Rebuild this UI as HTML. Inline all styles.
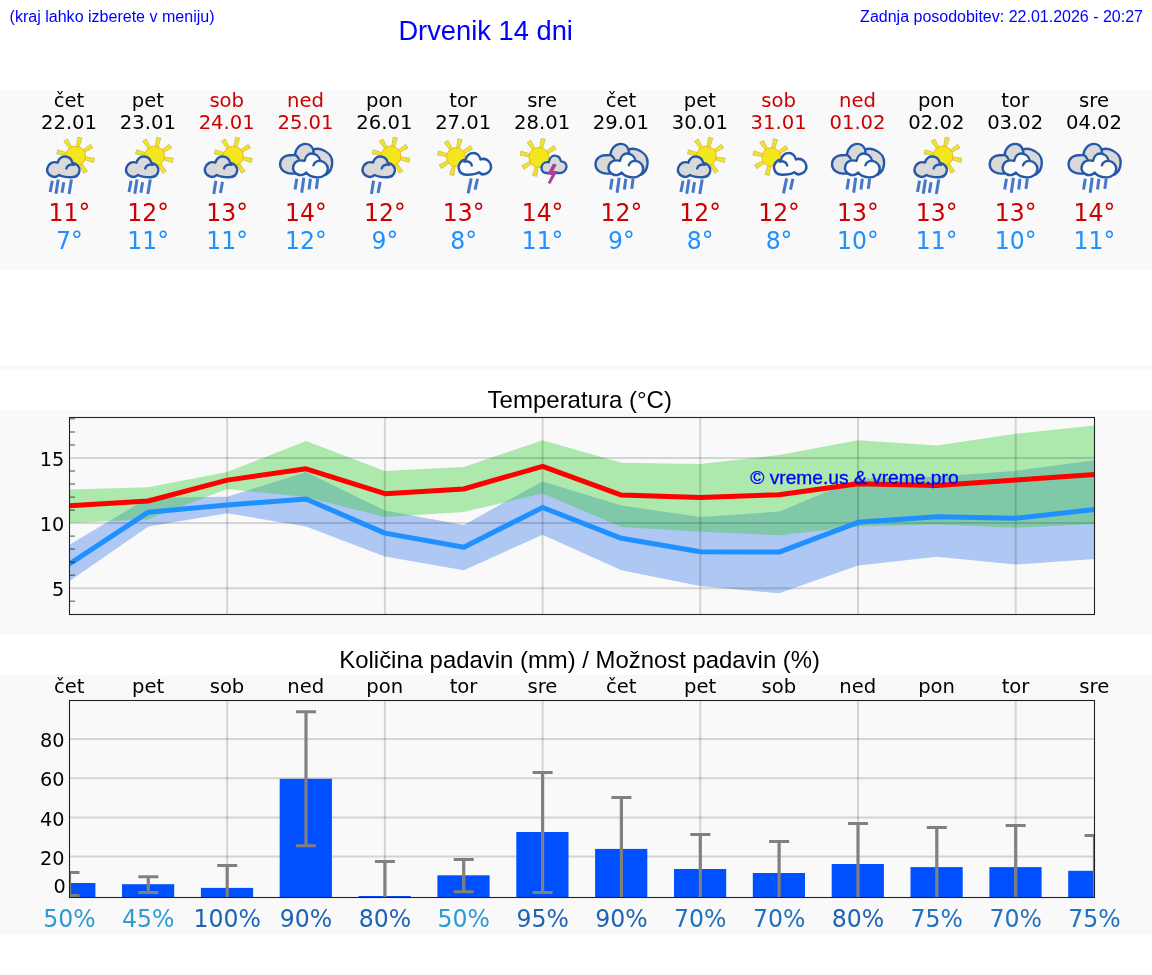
<!DOCTYPE html>
<html lang="sl"><head><meta charset="utf-8"><title>Drvenik 14 dni</title>
<style>
html,body{margin:0;padding:0;background:#fff;}
body{width:1152px;height:975px;position:relative;overflow:hidden;font-family:"Liberation Sans",sans-serif;}
.band{position:absolute;left:0;width:1152px;background:#f9f9f9;}
.t{position:absolute;white-space:nowrap;color:#0000ff;}
svg{position:absolute;left:0;top:0;}
svg text{font-family:"DejaVu Sans",sans-serif;}
</style></head><body>
<div class="band" style="top:90px;height:180px"></div>
<div class="band" style="top:365px;height:5px"></div>
<div class="band" style="top:410px;height:225px"></div>
<div class="band" style="top:675px;height:260px"></div>
<div class="t" style="left:9.6px;top:7px;font-size:16.05px;line-height:18px">(kraj lahko izberete v meniju)</div>
<div class="t" style="left:398.4px;top:14.7px;font-size:27.3px;line-height:31px">Drvenik 14 dni</div>
<div class="t" style="right:9px;top:8.2px;font-size:16px;line-height:18px">Zadnja posodobitev: 22.01.2026 - 20:27</div>
<div class="t" style="left:487.6px;top:386px;font-size:24px;line-height:28px;color:#000">Temperatura (°C)</div>
<div class="t" style="left:339.3px;top:646px;font-size:23.9px;line-height:28px;color:#000">Količina padavin (mm) / Možnost padavin (%)</div>

<svg width="1152" height="975" viewBox="0 0 1152 975">
<text x="69.0" y="106.5" font-size="19.6" text-anchor="middle" fill="#000">čet</text>
<text x="69.0" y="128.8" font-size="19.6" text-anchor="middle" fill="#000">22.01</text>
<text transform="translate(69.4,221.2) scale(0.96,1)" font-size="24.5" text-anchor="middle" fill="#cc0000">11°</text>
<text transform="translate(69.4,248.8) scale(0.96,1)" font-size="24.5" text-anchor="middle" fill="#1e90ff">7°</text>
<g transform="translate(39.00,132)"><polygon points="45.36,27.59 54.56,30.50 55.54,26.29 45.98,24.87" fill="#f2e61c" stroke="#bdb566" stroke-width="0.7"/><polygon points="40.36,32.75 44.81,41.32 48.48,39.03 42.73,31.27" fill="#f2e61c" stroke="#bdb566" stroke-width="0.7"/><polygon points="33.18,32.87 30.27,42.08 34.48,43.05 35.90,33.49" fill="#f2e61c" stroke="#bdb566" stroke-width="0.7"/><polygon points="28.02,27.87 19.45,32.32 21.74,35.99 29.50,30.24" fill="#f2e61c" stroke="#bdb566" stroke-width="0.7"/><polygon points="27.90,20.69 18.69,17.78 17.72,21.99 27.27,23.41" fill="#f2e61c" stroke="#bdb566" stroke-width="0.7"/><polygon points="32.89,15.53 28.44,6.96 24.77,9.25 30.53,17.01" fill="#f2e61c" stroke="#bdb566" stroke-width="0.7"/><polygon points="40.07,15.41 42.99,6.20 38.77,5.23 37.36,14.78" fill="#f2e61c" stroke="#bdb566" stroke-width="0.7"/><polygon points="45.24,20.41 53.81,15.95 51.52,12.29 43.76,18.04" fill="#f2e61c" stroke="#bdb566" stroke-width="0.7"/><circle cx="36.63" cy="24.14" r="9.98" fill="#f2e61c" stroke="#f6b21e" stroke-width="1"/><g transform="translate(0.00,0.00)"><path d="M 20.23 42.91 C 18.28 44.79 15.00 45.35 12.56 44.09 C 9.42 42.56 7.53 39.42 8.37 35.93 C 9.35 31.95 13.95 28.95 18.70 30.70 C 19.19 27.21 22.19 24.56 25.47 24.56 C 29.30 24.56 32.51 27.07 33.49 30.84 C 38.02 31.40 41.16 35.23 40.47 39.07 C 39.77 43.40 36.28 45.35 32.09 45.21 C 27.35 45.21 23.02 44.65 20.23 42.91 Z" fill="#d9d9d9" stroke="#2558a8" stroke-width="2.4" stroke-linejoin="round"/><path d="M 34.88 32.79 C 31.74 31.74 27.91 33.49 27.35 36.42" fill="none" stroke="#2558a8" stroke-width="2.4" stroke-linecap="round"/></g><line x1="13.26" y1="48.84" x2="11.16" y2="60.00" stroke="#4578c8" stroke-width="3"/><line x1="19.19" y1="47.44" x2="16.95" y2="61.74" stroke="#4578c8" stroke-width="3"/><line x1="24.77" y1="50.23" x2="23.02" y2="60.70" stroke="#4578c8" stroke-width="3"/><line x1="32.44" y1="47.44" x2="30.00" y2="62.09" stroke="#4578c8" stroke-width="3"/></g>
<text x="147.8" y="106.5" font-size="19.6" text-anchor="middle" fill="#000">pet</text>
<text x="147.8" y="128.8" font-size="19.6" text-anchor="middle" fill="#000">23.01</text>
<text transform="translate(148.2,221.2) scale(0.96,1)" font-size="24.5" text-anchor="middle" fill="#cc0000">12°</text>
<text transform="translate(148.2,248.8) scale(0.96,1)" font-size="24.5" text-anchor="middle" fill="#1e90ff">11°</text>
<g transform="translate(117.85,132)"><polygon points="45.36,27.59 54.56,30.50 55.54,26.29 45.98,24.87" fill="#f2e61c" stroke="#bdb566" stroke-width="0.7"/><polygon points="40.36,32.75 44.81,41.32 48.48,39.03 42.73,31.27" fill="#f2e61c" stroke="#bdb566" stroke-width="0.7"/><polygon points="33.18,32.87 30.27,42.08 34.48,43.05 35.90,33.49" fill="#f2e61c" stroke="#bdb566" stroke-width="0.7"/><polygon points="28.02,27.87 19.45,32.32 21.74,35.99 29.50,30.24" fill="#f2e61c" stroke="#bdb566" stroke-width="0.7"/><polygon points="27.90,20.69 18.69,17.78 17.72,21.99 27.27,23.41" fill="#f2e61c" stroke="#bdb566" stroke-width="0.7"/><polygon points="32.89,15.53 28.44,6.96 24.77,9.25 30.53,17.01" fill="#f2e61c" stroke="#bdb566" stroke-width="0.7"/><polygon points="40.07,15.41 42.99,6.20 38.77,5.23 37.36,14.78" fill="#f2e61c" stroke="#bdb566" stroke-width="0.7"/><polygon points="45.24,20.41 53.81,15.95 51.52,12.29 43.76,18.04" fill="#f2e61c" stroke="#bdb566" stroke-width="0.7"/><circle cx="36.63" cy="24.14" r="9.98" fill="#f2e61c" stroke="#f6b21e" stroke-width="1"/><g transform="translate(0.00,0.00)"><path d="M 20.23 42.91 C 18.28 44.79 15.00 45.35 12.56 44.09 C 9.42 42.56 7.53 39.42 8.37 35.93 C 9.35 31.95 13.95 28.95 18.70 30.70 C 19.19 27.21 22.19 24.56 25.47 24.56 C 29.30 24.56 32.51 27.07 33.49 30.84 C 38.02 31.40 41.16 35.23 40.47 39.07 C 39.77 43.40 36.28 45.35 32.09 45.21 C 27.35 45.21 23.02 44.65 20.23 42.91 Z" fill="#d9d9d9" stroke="#2558a8" stroke-width="2.4" stroke-linejoin="round"/><path d="M 34.88 32.79 C 31.74 31.74 27.91 33.49 27.35 36.42" fill="none" stroke="#2558a8" stroke-width="2.4" stroke-linecap="round"/></g><line x1="13.26" y1="48.84" x2="11.16" y2="60.00" stroke="#4578c8" stroke-width="3"/><line x1="19.19" y1="47.44" x2="16.95" y2="61.74" stroke="#4578c8" stroke-width="3"/><line x1="24.77" y1="50.23" x2="23.02" y2="60.70" stroke="#4578c8" stroke-width="3"/><line x1="32.44" y1="47.44" x2="30.00" y2="62.09" stroke="#4578c8" stroke-width="3"/></g>
<text x="226.7" y="106.5" font-size="19.6" text-anchor="middle" fill="#cc0000">sob</text>
<text x="226.7" y="128.8" font-size="19.6" text-anchor="middle" fill="#cc0000">24.01</text>
<text transform="translate(227.1,221.2) scale(0.96,1)" font-size="24.5" text-anchor="middle" fill="#cc0000">13°</text>
<text transform="translate(227.1,248.8) scale(0.96,1)" font-size="24.5" text-anchor="middle" fill="#1e90ff">11°</text>
<g transform="translate(196.69,132)"><polygon points="45.36,27.59 54.56,30.50 55.54,26.29 45.98,24.87" fill="#f2e61c" stroke="#bdb566" stroke-width="0.7"/><polygon points="40.36,32.75 44.81,41.32 48.48,39.03 42.73,31.27" fill="#f2e61c" stroke="#bdb566" stroke-width="0.7"/><polygon points="33.18,32.87 30.27,42.08 34.48,43.05 35.90,33.49" fill="#f2e61c" stroke="#bdb566" stroke-width="0.7"/><polygon points="28.02,27.87 19.45,32.32 21.74,35.99 29.50,30.24" fill="#f2e61c" stroke="#bdb566" stroke-width="0.7"/><polygon points="27.90,20.69 18.69,17.78 17.72,21.99 27.27,23.41" fill="#f2e61c" stroke="#bdb566" stroke-width="0.7"/><polygon points="32.89,15.53 28.44,6.96 24.77,9.25 30.53,17.01" fill="#f2e61c" stroke="#bdb566" stroke-width="0.7"/><polygon points="40.07,15.41 42.99,6.20 38.77,5.23 37.36,14.78" fill="#f2e61c" stroke="#bdb566" stroke-width="0.7"/><polygon points="45.24,20.41 53.81,15.95 51.52,12.29 43.76,18.04" fill="#f2e61c" stroke="#bdb566" stroke-width="0.7"/><circle cx="36.63" cy="24.14" r="9.98" fill="#f2e61c" stroke="#f6b21e" stroke-width="1"/><g transform="translate(0.00,0.00)"><path d="M 20.23 42.91 C 18.28 44.79 15.00 45.35 12.56 44.09 C 9.42 42.56 7.53 39.42 8.37 35.93 C 9.35 31.95 13.95 28.95 18.70 30.70 C 19.19 27.21 22.19 24.56 25.47 24.56 C 29.30 24.56 32.51 27.07 33.49 30.84 C 38.02 31.40 41.16 35.23 40.47 39.07 C 39.77 43.40 36.28 45.35 32.09 45.21 C 27.35 45.21 23.02 44.65 20.23 42.91 Z" fill="#d9d9d9" stroke="#2558a8" stroke-width="2.4" stroke-linejoin="round"/><path d="M 34.88 32.79 C 31.74 31.74 27.91 33.49 27.35 36.42" fill="none" stroke="#2558a8" stroke-width="2.4" stroke-linecap="round"/></g><line x1="19.19" y1="48.84" x2="17.09" y2="62.09" stroke="#4578c8" stroke-width="3"/><line x1="25.81" y1="49.88" x2="23.72" y2="61.05" stroke="#4578c8" stroke-width="3"/></g>
<text x="305.5" y="106.5" font-size="19.6" text-anchor="middle" fill="#cc0000">ned</text>
<text x="305.5" y="128.8" font-size="19.6" text-anchor="middle" fill="#cc0000">25.01</text>
<text transform="translate(305.9,221.2) scale(0.96,1)" font-size="24.5" text-anchor="middle" fill="#cc0000">14°</text>
<text transform="translate(305.9,248.8) scale(0.96,1)" font-size="24.5" text-anchor="middle" fill="#1e90ff">12°</text>
<g transform="translate(275.54,132)"><path d="M 18.65 41.34 C 11.88 42.64 4.58 38.99 4.58 32.22 C 4.58 26.49 9.27 23.11 14.22 23.26 C 16.56 23.26 18.13 23.37 19.43 22.95 C 19.69 17.12 24.38 11.91 29.85 11.91 C 33.23 11.91 36.36 13.99 37.66 17.64 C 40.00 16.60 43.13 16.60 45.73 17.38 C 52.50 19.46 56.77 24.41 56.67 30.40 C 56.56 35.87 54.06 40.55 50.42 42.64 Z" fill="#d9d9d9" stroke="#2558a8" stroke-width="2.4" stroke-linejoin="round"/><path d="M 19.43 22.95 C 20.99 23.63 22.29 24.93 23.23 26.75 M 37.66 17.64 C 37.92 18.68 38.02 19.72 37.92 20.87" fill="none" stroke="#2558a8" stroke-width="2.4" stroke-linecap="round"/><path d="M 30.63 40.55 C 28.54 43.16 24.38 43.94 21.51 42.12 C 18.65 40.55 17.09 37.43 17.71 34.56 C 18.39 30.14 22.29 27.27 29.06 28.84 C 29.85 24.41 32.71 21.54 36.10 21.54 C 40.00 21.54 43.65 24.41 44.69 28.84 C 48.86 29.36 52.24 32.74 52.24 36.65 C 52.24 41.60 47.81 45.24 42.61 45.35 C 37.92 45.50 33.23 43.68 30.63 40.55 Z" fill="#fbfbfb" stroke="#2558a8" stroke-width="2.4" stroke-linejoin="round"/><path d="M 44.69 28.94 C 42.09 28.57 38.70 30.14 37.92 33.26" fill="none" stroke="#2558a8" stroke-width="2.4" stroke-linecap="round"/><line x1="21.28" y1="46.74" x2="19.53" y2="57.56" stroke="#4578c8" stroke-width="3"/><line x1="28.26" y1="45.70" x2="26.16" y2="60.70" stroke="#4578c8" stroke-width="3"/><line x1="34.88" y1="46.74" x2="33.49" y2="57.56" stroke="#4578c8" stroke-width="3"/><line x1="42.21" y1="46.40" x2="40.81" y2="56.86" stroke="#4578c8" stroke-width="3"/></g>
<text x="384.4" y="106.5" font-size="19.6" text-anchor="middle" fill="#000">pon</text>
<text x="384.4" y="128.8" font-size="19.6" text-anchor="middle" fill="#000">26.01</text>
<text transform="translate(384.8,221.2) scale(0.96,1)" font-size="24.5" text-anchor="middle" fill="#cc0000">12°</text>
<text transform="translate(384.8,248.8) scale(0.96,1)" font-size="24.5" text-anchor="middle" fill="#1e90ff">9°</text>
<g transform="translate(354.38,132)"><polygon points="45.36,27.59 54.56,30.50 55.54,26.29 45.98,24.87" fill="#f2e61c" stroke="#bdb566" stroke-width="0.7"/><polygon points="40.36,32.75 44.81,41.32 48.48,39.03 42.73,31.27" fill="#f2e61c" stroke="#bdb566" stroke-width="0.7"/><polygon points="33.18,32.87 30.27,42.08 34.48,43.05 35.90,33.49" fill="#f2e61c" stroke="#bdb566" stroke-width="0.7"/><polygon points="28.02,27.87 19.45,32.32 21.74,35.99 29.50,30.24" fill="#f2e61c" stroke="#bdb566" stroke-width="0.7"/><polygon points="27.90,20.69 18.69,17.78 17.72,21.99 27.27,23.41" fill="#f2e61c" stroke="#bdb566" stroke-width="0.7"/><polygon points="32.89,15.53 28.44,6.96 24.77,9.25 30.53,17.01" fill="#f2e61c" stroke="#bdb566" stroke-width="0.7"/><polygon points="40.07,15.41 42.99,6.20 38.77,5.23 37.36,14.78" fill="#f2e61c" stroke="#bdb566" stroke-width="0.7"/><polygon points="45.24,20.41 53.81,15.95 51.52,12.29 43.76,18.04" fill="#f2e61c" stroke="#bdb566" stroke-width="0.7"/><circle cx="36.63" cy="24.14" r="9.98" fill="#f2e61c" stroke="#f6b21e" stroke-width="1"/><g transform="translate(0.00,0.00)"><path d="M 20.23 42.91 C 18.28 44.79 15.00 45.35 12.56 44.09 C 9.42 42.56 7.53 39.42 8.37 35.93 C 9.35 31.95 13.95 28.95 18.70 30.70 C 19.19 27.21 22.19 24.56 25.47 24.56 C 29.30 24.56 32.51 27.07 33.49 30.84 C 38.02 31.40 41.16 35.23 40.47 39.07 C 39.77 43.40 36.28 45.35 32.09 45.21 C 27.35 45.21 23.02 44.65 20.23 42.91 Z" fill="#d9d9d9" stroke="#2558a8" stroke-width="2.4" stroke-linejoin="round"/><path d="M 34.88 32.79 C 31.74 31.74 27.91 33.49 27.35 36.42" fill="none" stroke="#2558a8" stroke-width="2.4" stroke-linecap="round"/></g><line x1="19.19" y1="48.84" x2="17.09" y2="62.09" stroke="#4578c8" stroke-width="3"/><line x1="25.81" y1="49.88" x2="23.72" y2="61.05" stroke="#4578c8" stroke-width="3"/></g>
<text x="463.2" y="106.5" font-size="19.6" text-anchor="middle" fill="#000">tor</text>
<text x="463.2" y="128.8" font-size="19.6" text-anchor="middle" fill="#000">27.01</text>
<text transform="translate(463.6,221.2) scale(0.96,1)" font-size="24.5" text-anchor="middle" fill="#cc0000">13°</text>
<text transform="translate(463.6,248.8) scale(0.96,1)" font-size="24.5" text-anchor="middle" fill="#1e90ff">8°</text>
<g transform="translate(433.23,132)"><polygon points="30.86,28.44 40.07,31.35 41.04,27.14 31.49,25.72" fill="#f2e61c" stroke="#bdb566" stroke-width="0.7"/><polygon points="26.11,33.25 30.56,41.82 34.23,39.53 28.48,31.77" fill="#f2e61c" stroke="#bdb566" stroke-width="0.7"/><polygon points="19.35,33.30 16.44,42.51 20.65,43.48 22.07,33.93" fill="#f2e61c" stroke="#bdb566" stroke-width="0.7"/><polygon points="14.54,28.55 5.97,33.01 8.26,36.67 16.02,30.92" fill="#f2e61c" stroke="#bdb566" stroke-width="0.7"/><polygon points="14.49,21.79 5.28,18.88 4.31,23.10 13.86,24.51" fill="#f2e61c" stroke="#bdb566" stroke-width="0.7"/><polygon points="19.24,16.98 14.79,8.41 11.12,10.70 16.87,18.46" fill="#f2e61c" stroke="#bdb566" stroke-width="0.7"/><polygon points="26.00,16.93 28.91,7.72 24.69,6.75 23.28,16.31" fill="#f2e61c" stroke="#bdb566" stroke-width="0.7"/><polygon points="30.81,21.68 39.38,17.23 37.09,13.56 29.33,19.31" fill="#f2e61c" stroke="#bdb566" stroke-width="0.7"/><circle cx="22.67" cy="25.12" r="9.42" fill="#f2e61c" stroke="#f6b21e" stroke-width="1"/><g transform="translate(65.93,-4.81) scale(-1,1.05)"><path d="M 20.23 42.91 C 18.28 44.79 15.00 45.35 12.56 44.09 C 9.42 42.56 7.53 39.42 8.37 35.93 C 9.35 31.95 13.95 28.95 18.70 30.70 C 19.19 27.21 22.19 24.56 25.47 24.56 C 29.30 24.56 32.51 27.07 33.49 30.84 C 38.02 31.40 41.16 35.23 40.47 39.07 C 39.77 43.40 36.28 45.35 32.09 45.21 C 27.35 45.21 23.02 44.65 20.23 42.91 Z" fill="#fbfbfb" stroke="#2558a8" stroke-width="2.4" stroke-linejoin="round"/><path d="M 34.88 32.79 C 31.74 31.74 27.91 33.49 27.35 36.42" fill="none" stroke="#2558a8" stroke-width="2.4" stroke-linecap="round"/></g><line x1="38.02" y1="46.40" x2="34.88" y2="61.40" stroke="#4578c8" stroke-width="3"/><line x1="44.30" y1="46.74" x2="41.86" y2="57.56" stroke="#4578c8" stroke-width="3"/></g>
<text x="542.1" y="106.5" font-size="19.6" text-anchor="middle" fill="#000">sre</text>
<text x="542.1" y="128.8" font-size="19.6" text-anchor="middle" fill="#000">28.01</text>
<text transform="translate(542.5,221.2) scale(0.96,1)" font-size="24.5" text-anchor="middle" fill="#cc0000">14°</text>
<text transform="translate(542.5,248.8) scale(0.96,1)" font-size="24.5" text-anchor="middle" fill="#1e90ff">11°</text>
<g transform="translate(512.08,132)"><polygon points="35.59,28.91 44.80,31.83 45.77,27.61 36.22,26.19" fill="#f2e61c" stroke="#bdb566" stroke-width="0.7"/><polygon points="30.59,34.07 35.05,42.65 38.71,40.35 32.96,32.59" fill="#f2e61c" stroke="#bdb566" stroke-width="0.7"/><polygon points="23.41,34.19 20.50,43.40 24.71,44.37 26.13,34.82" fill="#f2e61c" stroke="#bdb566" stroke-width="0.7"/><polygon points="18.25,29.20 9.68,33.65 11.97,37.32 19.73,31.57" fill="#f2e61c" stroke="#bdb566" stroke-width="0.7"/><polygon points="18.13,22.02 8.92,19.10 7.95,23.32 17.51,24.74" fill="#f2e61c" stroke="#bdb566" stroke-width="0.7"/><polygon points="23.13,16.86 18.68,8.29 15.01,10.58 20.76,18.34" fill="#f2e61c" stroke="#bdb566" stroke-width="0.7"/><polygon points="30.31,16.74 33.22,7.53 29.01,6.56 27.59,16.11" fill="#f2e61c" stroke="#bdb566" stroke-width="0.7"/><polygon points="35.47,21.73 44.04,17.28 41.75,13.61 33.99,19.36" fill="#f2e61c" stroke="#bdb566" stroke-width="0.7"/><circle cx="26.86" cy="25.47" r="9.98" fill="#f2e61c" stroke="#f6b21e" stroke-width="1"/><path d="M 32.79 40.81 C 30.00 40.12 28.74 36.98 29.65 34.19 C 30.56 31.40 33.49 29.65 36.63 30.35 C 37.33 26.51 39.77 23.72 42.56 23.72 C 45.70 23.72 48.14 26.16 48.84 29.30 C 51.98 29.30 54.77 31.74 54.42 34.88 C 54.07 38.72 50.93 41.16 47.44 41.02 Z" fill="#d9d9d9" stroke="#2558a8" stroke-width="2.3" stroke-linejoin="round"/><path d="M 41.02 31.53 L 44.65 32.79 L 41.30 39.07 L 45.49 39.07 L 38.02 52.19 L 35.79 50.65 L 39.63 42.98 L 35.09 42.56 Z" fill="#a8419d"/></g>
<text x="620.9" y="106.5" font-size="19.6" text-anchor="middle" fill="#000">čet</text>
<text x="620.9" y="128.8" font-size="19.6" text-anchor="middle" fill="#000">29.01</text>
<text transform="translate(621.3,221.2) scale(0.96,1)" font-size="24.5" text-anchor="middle" fill="#cc0000">12°</text>
<text transform="translate(621.3,248.8) scale(0.96,1)" font-size="24.5" text-anchor="middle" fill="#1e90ff">9°</text>
<g transform="translate(590.92,132)"><path d="M 18.65 41.34 C 11.88 42.64 4.58 38.99 4.58 32.22 C 4.58 26.49 9.27 23.11 14.22 23.26 C 16.56 23.26 18.13 23.37 19.43 22.95 C 19.69 17.12 24.38 11.91 29.85 11.91 C 33.23 11.91 36.36 13.99 37.66 17.64 C 40.00 16.60 43.13 16.60 45.73 17.38 C 52.50 19.46 56.77 24.41 56.67 30.40 C 56.56 35.87 54.06 40.55 50.42 42.64 Z" fill="#d9d9d9" stroke="#2558a8" stroke-width="2.4" stroke-linejoin="round"/><path d="M 19.43 22.95 C 20.99 23.63 22.29 24.93 23.23 26.75 M 37.66 17.64 C 37.92 18.68 38.02 19.72 37.92 20.87" fill="none" stroke="#2558a8" stroke-width="2.4" stroke-linecap="round"/><path d="M 30.63 40.55 C 28.54 43.16 24.38 43.94 21.51 42.12 C 18.65 40.55 17.09 37.43 17.71 34.56 C 18.39 30.14 22.29 27.27 29.06 28.84 C 29.85 24.41 32.71 21.54 36.10 21.54 C 40.00 21.54 43.65 24.41 44.69 28.84 C 48.86 29.36 52.24 32.74 52.24 36.65 C 52.24 41.60 47.81 45.24 42.61 45.35 C 37.92 45.50 33.23 43.68 30.63 40.55 Z" fill="#fbfbfb" stroke="#2558a8" stroke-width="2.4" stroke-linejoin="round"/><path d="M 44.69 28.94 C 42.09 28.57 38.70 30.14 37.92 33.26" fill="none" stroke="#2558a8" stroke-width="2.4" stroke-linecap="round"/><line x1="21.28" y1="46.74" x2="19.53" y2="57.56" stroke="#4578c8" stroke-width="3"/><line x1="28.26" y1="45.70" x2="26.16" y2="60.70" stroke="#4578c8" stroke-width="3"/><line x1="34.88" y1="46.74" x2="33.49" y2="57.56" stroke="#4578c8" stroke-width="3"/><line x1="42.21" y1="46.40" x2="40.81" y2="56.86" stroke="#4578c8" stroke-width="3"/></g>
<text x="699.8" y="106.5" font-size="19.6" text-anchor="middle" fill="#000">pet</text>
<text x="699.8" y="128.8" font-size="19.6" text-anchor="middle" fill="#000">30.01</text>
<text transform="translate(700.2,221.2) scale(0.96,1)" font-size="24.5" text-anchor="middle" fill="#cc0000">12°</text>
<text transform="translate(700.2,248.8) scale(0.96,1)" font-size="24.5" text-anchor="middle" fill="#1e90ff">8°</text>
<g transform="translate(669.77,132)"><polygon points="45.36,27.59 54.56,30.50 55.54,26.29 45.98,24.87" fill="#f2e61c" stroke="#bdb566" stroke-width="0.7"/><polygon points="40.36,32.75 44.81,41.32 48.48,39.03 42.73,31.27" fill="#f2e61c" stroke="#bdb566" stroke-width="0.7"/><polygon points="33.18,32.87 30.27,42.08 34.48,43.05 35.90,33.49" fill="#f2e61c" stroke="#bdb566" stroke-width="0.7"/><polygon points="28.02,27.87 19.45,32.32 21.74,35.99 29.50,30.24" fill="#f2e61c" stroke="#bdb566" stroke-width="0.7"/><polygon points="27.90,20.69 18.69,17.78 17.72,21.99 27.27,23.41" fill="#f2e61c" stroke="#bdb566" stroke-width="0.7"/><polygon points="32.89,15.53 28.44,6.96 24.77,9.25 30.53,17.01" fill="#f2e61c" stroke="#bdb566" stroke-width="0.7"/><polygon points="40.07,15.41 42.99,6.20 38.77,5.23 37.36,14.78" fill="#f2e61c" stroke="#bdb566" stroke-width="0.7"/><polygon points="45.24,20.41 53.81,15.95 51.52,12.29 43.76,18.04" fill="#f2e61c" stroke="#bdb566" stroke-width="0.7"/><circle cx="36.63" cy="24.14" r="9.98" fill="#f2e61c" stroke="#f6b21e" stroke-width="1"/><g transform="translate(0.00,0.00)"><path d="M 20.23 42.91 C 18.28 44.79 15.00 45.35 12.56 44.09 C 9.42 42.56 7.53 39.42 8.37 35.93 C 9.35 31.95 13.95 28.95 18.70 30.70 C 19.19 27.21 22.19 24.56 25.47 24.56 C 29.30 24.56 32.51 27.07 33.49 30.84 C 38.02 31.40 41.16 35.23 40.47 39.07 C 39.77 43.40 36.28 45.35 32.09 45.21 C 27.35 45.21 23.02 44.65 20.23 42.91 Z" fill="#d9d9d9" stroke="#2558a8" stroke-width="2.4" stroke-linejoin="round"/><path d="M 34.88 32.79 C 31.74 31.74 27.91 33.49 27.35 36.42" fill="none" stroke="#2558a8" stroke-width="2.4" stroke-linecap="round"/></g><line x1="13.26" y1="48.84" x2="11.16" y2="60.00" stroke="#4578c8" stroke-width="3"/><line x1="19.19" y1="47.44" x2="16.95" y2="61.74" stroke="#4578c8" stroke-width="3"/><line x1="24.77" y1="50.23" x2="23.02" y2="60.70" stroke="#4578c8" stroke-width="3"/><line x1="32.44" y1="47.44" x2="30.00" y2="62.09" stroke="#4578c8" stroke-width="3"/></g>
<text x="778.6" y="106.5" font-size="19.6" text-anchor="middle" fill="#cc0000">sob</text>
<text x="778.6" y="128.8" font-size="19.6" text-anchor="middle" fill="#cc0000">31.01</text>
<text transform="translate(779.0,221.2) scale(0.96,1)" font-size="24.5" text-anchor="middle" fill="#cc0000">12°</text>
<text transform="translate(779.0,248.8) scale(0.96,1)" font-size="24.5" text-anchor="middle" fill="#1e90ff">8°</text>
<g transform="translate(748.61,132)"><polygon points="30.86,28.44 40.07,31.35 41.04,27.14 31.49,25.72" fill="#f2e61c" stroke="#bdb566" stroke-width="0.7"/><polygon points="26.11,33.25 30.56,41.82 34.23,39.53 28.48,31.77" fill="#f2e61c" stroke="#bdb566" stroke-width="0.7"/><polygon points="19.35,33.30 16.44,42.51 20.65,43.48 22.07,33.93" fill="#f2e61c" stroke="#bdb566" stroke-width="0.7"/><polygon points="14.54,28.55 5.97,33.01 8.26,36.67 16.02,30.92" fill="#f2e61c" stroke="#bdb566" stroke-width="0.7"/><polygon points="14.49,21.79 5.28,18.88 4.31,23.10 13.86,24.51" fill="#f2e61c" stroke="#bdb566" stroke-width="0.7"/><polygon points="19.24,16.98 14.79,8.41 11.12,10.70 16.87,18.46" fill="#f2e61c" stroke="#bdb566" stroke-width="0.7"/><polygon points="26.00,16.93 28.91,7.72 24.69,6.75 23.28,16.31" fill="#f2e61c" stroke="#bdb566" stroke-width="0.7"/><polygon points="30.81,21.68 39.38,17.23 37.09,13.56 29.33,19.31" fill="#f2e61c" stroke="#bdb566" stroke-width="0.7"/><circle cx="22.67" cy="25.12" r="9.42" fill="#f2e61c" stroke="#f6b21e" stroke-width="1"/><g transform="translate(65.93,-4.81) scale(-1,1.05)"><path d="M 20.23 42.91 C 18.28 44.79 15.00 45.35 12.56 44.09 C 9.42 42.56 7.53 39.42 8.37 35.93 C 9.35 31.95 13.95 28.95 18.70 30.70 C 19.19 27.21 22.19 24.56 25.47 24.56 C 29.30 24.56 32.51 27.07 33.49 30.84 C 38.02 31.40 41.16 35.23 40.47 39.07 C 39.77 43.40 36.28 45.35 32.09 45.21 C 27.35 45.21 23.02 44.65 20.23 42.91 Z" fill="#fbfbfb" stroke="#2558a8" stroke-width="2.4" stroke-linejoin="round"/><path d="M 34.88 32.79 C 31.74 31.74 27.91 33.49 27.35 36.42" fill="none" stroke="#2558a8" stroke-width="2.4" stroke-linecap="round"/></g><line x1="38.02" y1="46.40" x2="34.88" y2="61.40" stroke="#4578c8" stroke-width="3"/><line x1="44.30" y1="46.74" x2="41.86" y2="57.56" stroke="#4578c8" stroke-width="3"/></g>
<text x="857.5" y="106.5" font-size="19.6" text-anchor="middle" fill="#cc0000">ned</text>
<text x="857.5" y="128.8" font-size="19.6" text-anchor="middle" fill="#cc0000">01.02</text>
<text transform="translate(857.9,221.2) scale(0.96,1)" font-size="24.5" text-anchor="middle" fill="#cc0000">13°</text>
<text transform="translate(857.9,248.8) scale(0.96,1)" font-size="24.5" text-anchor="middle" fill="#1e90ff">10°</text>
<g transform="translate(827.46,132)"><path d="M 18.65 41.34 C 11.88 42.64 4.58 38.99 4.58 32.22 C 4.58 26.49 9.27 23.11 14.22 23.26 C 16.56 23.26 18.13 23.37 19.43 22.95 C 19.69 17.12 24.38 11.91 29.85 11.91 C 33.23 11.91 36.36 13.99 37.66 17.64 C 40.00 16.60 43.13 16.60 45.73 17.38 C 52.50 19.46 56.77 24.41 56.67 30.40 C 56.56 35.87 54.06 40.55 50.42 42.64 Z" fill="#d9d9d9" stroke="#2558a8" stroke-width="2.4" stroke-linejoin="round"/><path d="M 19.43 22.95 C 20.99 23.63 22.29 24.93 23.23 26.75 M 37.66 17.64 C 37.92 18.68 38.02 19.72 37.92 20.87" fill="none" stroke="#2558a8" stroke-width="2.4" stroke-linecap="round"/><path d="M 30.63 40.55 C 28.54 43.16 24.38 43.94 21.51 42.12 C 18.65 40.55 17.09 37.43 17.71 34.56 C 18.39 30.14 22.29 27.27 29.06 28.84 C 29.85 24.41 32.71 21.54 36.10 21.54 C 40.00 21.54 43.65 24.41 44.69 28.84 C 48.86 29.36 52.24 32.74 52.24 36.65 C 52.24 41.60 47.81 45.24 42.61 45.35 C 37.92 45.50 33.23 43.68 30.63 40.55 Z" fill="#fbfbfb" stroke="#2558a8" stroke-width="2.4" stroke-linejoin="round"/><path d="M 44.69 28.94 C 42.09 28.57 38.70 30.14 37.92 33.26" fill="none" stroke="#2558a8" stroke-width="2.4" stroke-linecap="round"/><line x1="21.28" y1="46.74" x2="19.53" y2="57.56" stroke="#4578c8" stroke-width="3"/><line x1="28.26" y1="45.70" x2="26.16" y2="60.70" stroke="#4578c8" stroke-width="3"/><line x1="34.88" y1="46.74" x2="33.49" y2="57.56" stroke="#4578c8" stroke-width="3"/><line x1="42.21" y1="46.40" x2="40.81" y2="56.86" stroke="#4578c8" stroke-width="3"/></g>
<text x="936.3" y="106.5" font-size="19.6" text-anchor="middle" fill="#000">pon</text>
<text x="936.3" y="128.8" font-size="19.6" text-anchor="middle" fill="#000">02.02</text>
<text transform="translate(936.7,221.2) scale(0.96,1)" font-size="24.5" text-anchor="middle" fill="#cc0000">13°</text>
<text transform="translate(936.7,248.8) scale(0.96,1)" font-size="24.5" text-anchor="middle" fill="#1e90ff">11°</text>
<g transform="translate(906.31,132)"><polygon points="45.36,27.59 54.56,30.50 55.54,26.29 45.98,24.87" fill="#f2e61c" stroke="#bdb566" stroke-width="0.7"/><polygon points="40.36,32.75 44.81,41.32 48.48,39.03 42.73,31.27" fill="#f2e61c" stroke="#bdb566" stroke-width="0.7"/><polygon points="33.18,32.87 30.27,42.08 34.48,43.05 35.90,33.49" fill="#f2e61c" stroke="#bdb566" stroke-width="0.7"/><polygon points="28.02,27.87 19.45,32.32 21.74,35.99 29.50,30.24" fill="#f2e61c" stroke="#bdb566" stroke-width="0.7"/><polygon points="27.90,20.69 18.69,17.78 17.72,21.99 27.27,23.41" fill="#f2e61c" stroke="#bdb566" stroke-width="0.7"/><polygon points="32.89,15.53 28.44,6.96 24.77,9.25 30.53,17.01" fill="#f2e61c" stroke="#bdb566" stroke-width="0.7"/><polygon points="40.07,15.41 42.99,6.20 38.77,5.23 37.36,14.78" fill="#f2e61c" stroke="#bdb566" stroke-width="0.7"/><polygon points="45.24,20.41 53.81,15.95 51.52,12.29 43.76,18.04" fill="#f2e61c" stroke="#bdb566" stroke-width="0.7"/><circle cx="36.63" cy="24.14" r="9.98" fill="#f2e61c" stroke="#f6b21e" stroke-width="1"/><g transform="translate(0.00,0.00)"><path d="M 20.23 42.91 C 18.28 44.79 15.00 45.35 12.56 44.09 C 9.42 42.56 7.53 39.42 8.37 35.93 C 9.35 31.95 13.95 28.95 18.70 30.70 C 19.19 27.21 22.19 24.56 25.47 24.56 C 29.30 24.56 32.51 27.07 33.49 30.84 C 38.02 31.40 41.16 35.23 40.47 39.07 C 39.77 43.40 36.28 45.35 32.09 45.21 C 27.35 45.21 23.02 44.65 20.23 42.91 Z" fill="#d9d9d9" stroke="#2558a8" stroke-width="2.4" stroke-linejoin="round"/><path d="M 34.88 32.79 C 31.74 31.74 27.91 33.49 27.35 36.42" fill="none" stroke="#2558a8" stroke-width="2.4" stroke-linecap="round"/></g><line x1="13.26" y1="48.84" x2="11.16" y2="60.00" stroke="#4578c8" stroke-width="3"/><line x1="19.19" y1="47.44" x2="16.95" y2="61.74" stroke="#4578c8" stroke-width="3"/><line x1="24.77" y1="50.23" x2="23.02" y2="60.70" stroke="#4578c8" stroke-width="3"/><line x1="32.44" y1="47.44" x2="30.00" y2="62.09" stroke="#4578c8" stroke-width="3"/></g>
<text x="1015.2" y="106.5" font-size="19.6" text-anchor="middle" fill="#000">tor</text>
<text x="1015.2" y="128.8" font-size="19.6" text-anchor="middle" fill="#000">03.02</text>
<text transform="translate(1015.6,221.2) scale(0.96,1)" font-size="24.5" text-anchor="middle" fill="#cc0000">13°</text>
<text transform="translate(1015.6,248.8) scale(0.96,1)" font-size="24.5" text-anchor="middle" fill="#1e90ff">10°</text>
<g transform="translate(985.15,132)"><path d="M 18.65 41.34 C 11.88 42.64 4.58 38.99 4.58 32.22 C 4.58 26.49 9.27 23.11 14.22 23.26 C 16.56 23.26 18.13 23.37 19.43 22.95 C 19.69 17.12 24.38 11.91 29.85 11.91 C 33.23 11.91 36.36 13.99 37.66 17.64 C 40.00 16.60 43.13 16.60 45.73 17.38 C 52.50 19.46 56.77 24.41 56.67 30.40 C 56.56 35.87 54.06 40.55 50.42 42.64 Z" fill="#d9d9d9" stroke="#2558a8" stroke-width="2.4" stroke-linejoin="round"/><path d="M 19.43 22.95 C 20.99 23.63 22.29 24.93 23.23 26.75 M 37.66 17.64 C 37.92 18.68 38.02 19.72 37.92 20.87" fill="none" stroke="#2558a8" stroke-width="2.4" stroke-linecap="round"/><path d="M 30.63 40.55 C 28.54 43.16 24.38 43.94 21.51 42.12 C 18.65 40.55 17.09 37.43 17.71 34.56 C 18.39 30.14 22.29 27.27 29.06 28.84 C 29.85 24.41 32.71 21.54 36.10 21.54 C 40.00 21.54 43.65 24.41 44.69 28.84 C 48.86 29.36 52.24 32.74 52.24 36.65 C 52.24 41.60 47.81 45.24 42.61 45.35 C 37.92 45.50 33.23 43.68 30.63 40.55 Z" fill="#fbfbfb" stroke="#2558a8" stroke-width="2.4" stroke-linejoin="round"/><path d="M 44.69 28.94 C 42.09 28.57 38.70 30.14 37.92 33.26" fill="none" stroke="#2558a8" stroke-width="2.4" stroke-linecap="round"/><line x1="21.28" y1="46.74" x2="19.53" y2="57.56" stroke="#4578c8" stroke-width="3"/><line x1="28.26" y1="45.70" x2="26.16" y2="60.70" stroke="#4578c8" stroke-width="3"/><line x1="34.88" y1="46.74" x2="33.49" y2="57.56" stroke="#4578c8" stroke-width="3"/><line x1="42.21" y1="46.40" x2="40.81" y2="56.86" stroke="#4578c8" stroke-width="3"/></g>
<text x="1094.0" y="106.5" font-size="19.6" text-anchor="middle" fill="#000">sre</text>
<text x="1094.0" y="128.8" font-size="19.6" text-anchor="middle" fill="#000">04.02</text>
<text transform="translate(1094.4,221.2) scale(0.96,1)" font-size="24.5" text-anchor="middle" fill="#cc0000">14°</text>
<text transform="translate(1094.4,248.8) scale(0.96,1)" font-size="24.5" text-anchor="middle" fill="#1e90ff">11°</text>
<g transform="translate(1064.00,132)"><path d="M 18.65 41.34 C 11.88 42.64 4.58 38.99 4.58 32.22 C 4.58 26.49 9.27 23.11 14.22 23.26 C 16.56 23.26 18.13 23.37 19.43 22.95 C 19.69 17.12 24.38 11.91 29.85 11.91 C 33.23 11.91 36.36 13.99 37.66 17.64 C 40.00 16.60 43.13 16.60 45.73 17.38 C 52.50 19.46 56.77 24.41 56.67 30.40 C 56.56 35.87 54.06 40.55 50.42 42.64 Z" fill="#d9d9d9" stroke="#2558a8" stroke-width="2.4" stroke-linejoin="round"/><path d="M 19.43 22.95 C 20.99 23.63 22.29 24.93 23.23 26.75 M 37.66 17.64 C 37.92 18.68 38.02 19.72 37.92 20.87" fill="none" stroke="#2558a8" stroke-width="2.4" stroke-linecap="round"/><path d="M 30.63 40.55 C 28.54 43.16 24.38 43.94 21.51 42.12 C 18.65 40.55 17.09 37.43 17.71 34.56 C 18.39 30.14 22.29 27.27 29.06 28.84 C 29.85 24.41 32.71 21.54 36.10 21.54 C 40.00 21.54 43.65 24.41 44.69 28.84 C 48.86 29.36 52.24 32.74 52.24 36.65 C 52.24 41.60 47.81 45.24 42.61 45.35 C 37.92 45.50 33.23 43.68 30.63 40.55 Z" fill="#fbfbfb" stroke="#2558a8" stroke-width="2.4" stroke-linejoin="round"/><path d="M 44.69 28.94 C 42.09 28.57 38.70 30.14 37.92 33.26" fill="none" stroke="#2558a8" stroke-width="2.4" stroke-linecap="round"/><line x1="21.28" y1="46.74" x2="19.53" y2="57.56" stroke="#4578c8" stroke-width="3"/><line x1="28.26" y1="45.70" x2="26.16" y2="60.70" stroke="#4578c8" stroke-width="3"/><line x1="34.88" y1="46.74" x2="33.49" y2="57.56" stroke="#4578c8" stroke-width="3"/><line x1="42.21" y1="46.40" x2="40.81" y2="56.86" stroke="#4578c8" stroke-width="3"/></g>
<clipPath id="c1"><rect x="69.5" y="417.5" width="1025.0" height="197.0"/></clipPath>
<g clip-path="url(#c1)">
<polygon points="69.5,544.8 148.3,497.7 227.2,496.8 306.0,472.1 384.9,510.6 463.7,524.9 542.6,481.4 621.4,505.4 700.3,517.1 779.1,511.6 858.0,478.7 936.8,476.6 1015.7,470.9 1094.5,460.2 1094.5,558.9 1015.7,564.6 936.8,556.8 858.0,565.4 779.1,593.3 700.3,586.0 621.4,570.2 542.6,534.8 463.7,570.2 384.9,556.4 306.0,526.4 227.2,513.2 148.3,526.4 69.5,580.9" fill="#6495ed" fill-opacity="0.5"/>
<polygon points="69.5,489.4 148.3,487.3 227.2,472.1 306.0,441.1 384.9,470.9 463.7,467.0 542.6,440.2 621.4,462.8 700.3,463.9 779.1,455.0 858.0,440.2 936.8,445.4 1015.7,433.8 1094.5,425.6 1094.5,523.9 1015.7,527.7 936.8,524.4 858.0,526.6 779.1,535.2 700.3,531.7 621.4,527.0 542.6,493.5 463.7,512.0 384.9,517.1 306.0,497.1 227.2,489.0 148.3,519.2 69.5,523.1" fill="#32cd32" fill-opacity="0.38"/>
<line x1="69.5" x2="1094.5" y1="588.2" y2="588.2" stroke="#000" stroke-opacity="0.15" stroke-width="2"/>
<line x1="69.5" x2="1094.5" y1="523.1" y2="523.1" stroke="#000" stroke-opacity="0.15" stroke-width="2"/>
<line x1="69.5" x2="1094.5" y1="458.0" y2="458.0" stroke="#000" stroke-opacity="0.15" stroke-width="2"/>
<line x1="227.2" x2="227.2" y1="417.5" y2="614.5" stroke="#000" stroke-opacity="0.15" stroke-width="2"/>
<line x1="384.9" x2="384.9" y1="417.5" y2="614.5" stroke="#000" stroke-opacity="0.15" stroke-width="2"/>
<line x1="542.6" x2="542.6" y1="417.5" y2="614.5" stroke="#000" stroke-opacity="0.15" stroke-width="2"/>
<line x1="700.3" x2="700.3" y1="417.5" y2="614.5" stroke="#000" stroke-opacity="0.15" stroke-width="2"/>
<line x1="858.0" x2="858.0" y1="417.5" y2="614.5" stroke="#000" stroke-opacity="0.15" stroke-width="2"/>
<line x1="1015.7" x2="1015.7" y1="417.5" y2="614.5" stroke="#000" stroke-opacity="0.15" stroke-width="2"/>
<polyline points="69.5,564.0 148.3,512.2 227.2,504.9 306.0,499.0 384.9,533.1 463.7,547.2 542.6,507.5 621.4,538.3 700.3,551.7 779.1,552.1 858.0,522.3 936.8,516.7 1015.7,518.2 1094.5,509.6" fill="none" stroke="#1e90ff" stroke-width="5" stroke-linejoin="round"/>
<polyline points="69.5,505.8 148.3,501.0 227.2,480.1 306.0,468.8 384.9,493.7 463.7,489.0 542.6,466.3 621.4,495.1 700.3,497.6 779.1,494.7 858.0,483.8 936.8,485.5 1015.7,480.1 1094.5,474.5" fill="none" stroke="#ff0000" stroke-width="5" stroke-linejoin="round"/>
</g>
<line x1="69.5" x2="75.0" y1="601.2" y2="601.2" stroke="#222" stroke-width="0.8"/>
<line x1="69.5" x2="75.0" y1="575.2" y2="575.2" stroke="#222" stroke-width="0.8"/>
<line x1="69.5" x2="75.0" y1="562.2" y2="562.2" stroke="#222" stroke-width="0.8"/>
<line x1="69.5" x2="75.0" y1="549.1" y2="549.1" stroke="#222" stroke-width="0.8"/>
<line x1="69.5" x2="75.0" y1="536.1" y2="536.1" stroke="#222" stroke-width="0.8"/>
<line x1="69.5" x2="75.0" y1="510.1" y2="510.1" stroke="#222" stroke-width="0.8"/>
<line x1="69.5" x2="75.0" y1="497.1" y2="497.1" stroke="#222" stroke-width="0.8"/>
<line x1="69.5" x2="75.0" y1="484.0" y2="484.0" stroke="#222" stroke-width="0.8"/>
<line x1="69.5" x2="75.0" y1="471.0" y2="471.0" stroke="#222" stroke-width="0.8"/>
<line x1="69.5" x2="75.0" y1="445.0" y2="445.0" stroke="#222" stroke-width="0.8"/>
<line x1="69.5" x2="75.0" y1="432.0" y2="432.0" stroke="#222" stroke-width="0.8"/>
<line x1="69.5" x2="75.0" y1="418.9" y2="418.9" stroke="#222" stroke-width="0.8"/>
<rect x="69.5" y="417.5" width="1025.0" height="197.0" fill="none" stroke="#222" stroke-width="1.1"/>
<text x="64.4" y="596.4" font-size="19.3" text-anchor="end" fill="#000">5</text>
<text x="64.4" y="531.3" font-size="19.3" text-anchor="end" fill="#000">10</text>
<text x="64.4" y="466.2" font-size="19.3" text-anchor="end" fill="#000">15</text>
<text transform="translate(750.2,484.2) scale(1.05,1)" font-size="18.3" fill="#0000ff" stroke="#0000ff" stroke-width="0.3" style="font-family:'Liberation Sans',sans-serif">© vreme.us &amp; vreme.pro</text>
<clipPath id="c2"><rect x="69.5" y="700.5" width="1025.0" height="197.0"/></clipPath>
<g clip-path="url(#c2)">
<line x1="69.5" x2="1094.5" y1="856.6" y2="856.6" stroke="#000" stroke-opacity="0.15" stroke-width="2"/>
<line x1="69.5" x2="1094.5" y1="817.4" y2="817.4" stroke="#000" stroke-opacity="0.15" stroke-width="2"/>
<line x1="69.5" x2="1094.5" y1="778.2" y2="778.2" stroke="#000" stroke-opacity="0.15" stroke-width="2"/>
<line x1="69.5" x2="1094.5" y1="739.0" y2="739.0" stroke="#000" stroke-opacity="0.15" stroke-width="2"/>
<line x1="227.2" x2="227.2" y1="700.5" y2="897.5" stroke="#000" stroke-opacity="0.15" stroke-width="2"/>
<line x1="384.9" x2="384.9" y1="700.5" y2="897.5" stroke="#000" stroke-opacity="0.15" stroke-width="2"/>
<line x1="542.6" x2="542.6" y1="700.5" y2="897.5" stroke="#000" stroke-opacity="0.15" stroke-width="2"/>
<line x1="700.3" x2="700.3" y1="700.5" y2="897.5" stroke="#000" stroke-opacity="0.15" stroke-width="2"/>
<line x1="858.0" x2="858.0" y1="700.5" y2="897.5" stroke="#000" stroke-opacity="0.15" stroke-width="2"/>
<line x1="1015.7" x2="1015.7" y1="700.5" y2="897.5" stroke="#000" stroke-opacity="0.15" stroke-width="2"/>
<rect x="43.2" y="883.0" width="52.2" height="14.0" fill="#0050ff"/>
<rect x="122.0" y="884.2" width="52.2" height="12.8" fill="#0050ff"/>
<rect x="200.9" y="887.9" width="52.2" height="9.1" fill="#0050ff"/>
<rect x="279.7" y="778.8" width="52.2" height="118.2" fill="#0050ff"/>
<rect x="358.6" y="896.0" width="52.2" height="1.0" fill="#0050ff"/>
<rect x="437.4" y="875.3" width="52.2" height="21.7" fill="#0050ff"/>
<rect x="516.3" y="832.0" width="52.2" height="65.0" fill="#0050ff"/>
<rect x="595.1" y="848.9" width="52.2" height="48.1" fill="#0050ff"/>
<rect x="674.0" y="869.0" width="52.2" height="28.0" fill="#0050ff"/>
<rect x="752.8" y="873.0" width="52.2" height="24.0" fill="#0050ff"/>
<rect x="831.7" y="864.0" width="52.2" height="33.0" fill="#0050ff"/>
<rect x="910.5" y="867.1" width="52.2" height="29.9" fill="#0050ff"/>
<rect x="989.4" y="867.1" width="52.2" height="29.9" fill="#0050ff"/>
<rect x="1068.2" y="870.8" width="52.2" height="26.2" fill="#0050ff"/>
<line x1="69.5" x2="69.5" y1="872.4" y2="895.4" stroke="#808080" stroke-width="3.2"/>
<line x1="59.5" x2="79.5" y1="872.4" y2="872.4" stroke="#808080" stroke-width="3"/>
<line x1="59.5" x2="79.5" y1="895.4" y2="895.4" stroke="#808080" stroke-width="3"/>
<line x1="148.3" x2="148.3" y1="876.7" y2="892.5" stroke="#808080" stroke-width="3.2"/>
<line x1="138.3" x2="158.3" y1="876.7" y2="876.7" stroke="#808080" stroke-width="3"/>
<line x1="138.3" x2="158.3" y1="892.5" y2="892.5" stroke="#808080" stroke-width="3"/>
<line x1="227.2" x2="227.2" y1="865.5" y2="906.9" stroke="#808080" stroke-width="3.2"/>
<line x1="217.2" x2="237.2" y1="865.5" y2="865.5" stroke="#808080" stroke-width="3"/>
<line x1="217.2" x2="237.2" y1="906.9" y2="906.9" stroke="#808080" stroke-width="3"/>
<line x1="306.0" x2="306.0" y1="711.8" y2="845.8" stroke="#808080" stroke-width="3.2"/>
<line x1="296.0" x2="316.0" y1="711.8" y2="711.8" stroke="#808080" stroke-width="3"/>
<line x1="296.0" x2="316.0" y1="845.8" y2="845.8" stroke="#808080" stroke-width="3"/>
<line x1="384.9" x2="384.9" y1="861.5" y2="906.9" stroke="#808080" stroke-width="3.2"/>
<line x1="374.9" x2="394.9" y1="861.5" y2="861.5" stroke="#808080" stroke-width="3"/>
<line x1="374.9" x2="394.9" y1="906.9" y2="906.9" stroke="#808080" stroke-width="3"/>
<line x1="463.7" x2="463.7" y1="859.6" y2="891.7" stroke="#808080" stroke-width="3.2"/>
<line x1="453.7" x2="473.7" y1="859.6" y2="859.6" stroke="#808080" stroke-width="3"/>
<line x1="453.7" x2="473.7" y1="891.7" y2="891.7" stroke="#808080" stroke-width="3"/>
<line x1="542.6" x2="542.6" y1="772.5" y2="892.5" stroke="#808080" stroke-width="3.2"/>
<line x1="532.6" x2="552.6" y1="772.5" y2="772.5" stroke="#808080" stroke-width="3"/>
<line x1="532.6" x2="552.6" y1="892.5" y2="892.5" stroke="#808080" stroke-width="3"/>
<line x1="621.4" x2="621.4" y1="797.5" y2="906.9" stroke="#808080" stroke-width="3.2"/>
<line x1="611.4" x2="631.4" y1="797.5" y2="797.5" stroke="#808080" stroke-width="3"/>
<line x1="611.4" x2="631.4" y1="906.9" y2="906.9" stroke="#808080" stroke-width="3"/>
<line x1="700.3" x2="700.3" y1="834.6" y2="906.9" stroke="#808080" stroke-width="3.2"/>
<line x1="690.3" x2="710.3" y1="834.6" y2="834.6" stroke="#808080" stroke-width="3"/>
<line x1="690.3" x2="710.3" y1="906.9" y2="906.9" stroke="#808080" stroke-width="3"/>
<line x1="779.1" x2="779.1" y1="841.4" y2="906.9" stroke="#808080" stroke-width="3.2"/>
<line x1="769.1" x2="789.1" y1="841.4" y2="841.4" stroke="#808080" stroke-width="3"/>
<line x1="769.1" x2="789.1" y1="906.9" y2="906.9" stroke="#808080" stroke-width="3"/>
<line x1="858.0" x2="858.0" y1="823.5" y2="906.9" stroke="#808080" stroke-width="3.2"/>
<line x1="848.0" x2="868.0" y1="823.5" y2="823.5" stroke="#808080" stroke-width="3"/>
<line x1="848.0" x2="868.0" y1="906.9" y2="906.9" stroke="#808080" stroke-width="3"/>
<line x1="936.8" x2="936.8" y1="827.5" y2="906.9" stroke="#808080" stroke-width="3.2"/>
<line x1="926.8" x2="946.8" y1="827.5" y2="827.5" stroke="#808080" stroke-width="3"/>
<line x1="926.8" x2="946.8" y1="906.9" y2="906.9" stroke="#808080" stroke-width="3"/>
<line x1="1015.7" x2="1015.7" y1="825.5" y2="906.9" stroke="#808080" stroke-width="3.2"/>
<line x1="1005.7" x2="1025.7" y1="825.5" y2="825.5" stroke="#808080" stroke-width="3"/>
<line x1="1005.7" x2="1025.7" y1="906.9" y2="906.9" stroke="#808080" stroke-width="3"/>
<line x1="1094.5" x2="1094.5" y1="835.5" y2="906.9" stroke="#808080" stroke-width="3.2"/>
<line x1="1084.5" x2="1104.5" y1="835.5" y2="835.5" stroke="#808080" stroke-width="3"/>
<line x1="1084.5" x2="1104.5" y1="906.9" y2="906.9" stroke="#808080" stroke-width="3"/>
</g>
<rect x="69.5" y="700.5" width="1025.0" height="197.0" fill="none" stroke="#222" stroke-width="1.1"/>
<text x="64.5" y="864.7" font-size="19.3" text-anchor="end" fill="#000">20</text>
<text x="64.5" y="825.5" font-size="19.3" text-anchor="end" fill="#000">40</text>
<text x="64.5" y="786.3" font-size="19.3" text-anchor="end" fill="#000">60</text>
<text x="64.5" y="747.1" font-size="19.3" text-anchor="end" fill="#000">80</text>
<text x="65.9" y="893.3" font-size="19.3" text-anchor="end" fill="#000">0</text>
<text x="69.3" y="692.6" font-size="19.6" text-anchor="middle" fill="#000">čet</text>
<text transform="translate(69.5,927) scale(0.963,1)" font-size="24.5" text-anchor="middle" fill="#2f9bd3">50%</text>
<text x="148.1" y="692.6" font-size="19.6" text-anchor="middle" fill="#000">pet</text>
<text transform="translate(148.3,927) scale(0.963,1)" font-size="24.5" text-anchor="middle" fill="#2f9bd3">45%</text>
<text x="227.0" y="692.6" font-size="19.6" text-anchor="middle" fill="#000">sob</text>
<text transform="translate(227.2,927) scale(0.963,1)" font-size="24.5" text-anchor="middle" fill="#1f63b5">100%</text>
<text x="305.8" y="692.6" font-size="19.6" text-anchor="middle" fill="#000">ned</text>
<text transform="translate(306.0,927) scale(0.963,1)" font-size="24.5" text-anchor="middle" fill="#1f63b5">90%</text>
<text x="384.7" y="692.6" font-size="19.6" text-anchor="middle" fill="#000">pon</text>
<text transform="translate(384.9,927) scale(0.963,1)" font-size="24.5" text-anchor="middle" fill="#1f63b5">80%</text>
<text x="463.5" y="692.6" font-size="19.6" text-anchor="middle" fill="#000">tor</text>
<text transform="translate(463.7,927) scale(0.963,1)" font-size="24.5" text-anchor="middle" fill="#2f9bd3">50%</text>
<text x="542.4" y="692.6" font-size="19.6" text-anchor="middle" fill="#000">sre</text>
<text transform="translate(542.6,927) scale(0.963,1)" font-size="24.5" text-anchor="middle" fill="#1f63b5">95%</text>
<text x="621.2" y="692.6" font-size="19.6" text-anchor="middle" fill="#000">čet</text>
<text transform="translate(621.4,927) scale(0.963,1)" font-size="24.5" text-anchor="middle" fill="#1f63b5">90%</text>
<text x="700.1" y="692.6" font-size="19.6" text-anchor="middle" fill="#000">pet</text>
<text transform="translate(700.3,927) scale(0.963,1)" font-size="24.5" text-anchor="middle" fill="#2171c1">70%</text>
<text x="778.9" y="692.6" font-size="19.6" text-anchor="middle" fill="#000">sob</text>
<text transform="translate(779.1,927) scale(0.963,1)" font-size="24.5" text-anchor="middle" fill="#2171c1">70%</text>
<text x="857.8" y="692.6" font-size="19.6" text-anchor="middle" fill="#000">ned</text>
<text transform="translate(858.0,927) scale(0.963,1)" font-size="24.5" text-anchor="middle" fill="#1f63b5">80%</text>
<text x="936.6" y="692.6" font-size="19.6" text-anchor="middle" fill="#000">pon</text>
<text transform="translate(936.8,927) scale(0.963,1)" font-size="24.5" text-anchor="middle" fill="#2171c1">75%</text>
<text x="1015.5" y="692.6" font-size="19.6" text-anchor="middle" fill="#000">tor</text>
<text transform="translate(1015.7,927) scale(0.963,1)" font-size="24.5" text-anchor="middle" fill="#2171c1">70%</text>
<text x="1094.3" y="692.6" font-size="19.6" text-anchor="middle" fill="#000">sre</text>
<text transform="translate(1094.5,927) scale(0.963,1)" font-size="24.5" text-anchor="middle" fill="#2171c1">75%</text>
</svg></body></html>
